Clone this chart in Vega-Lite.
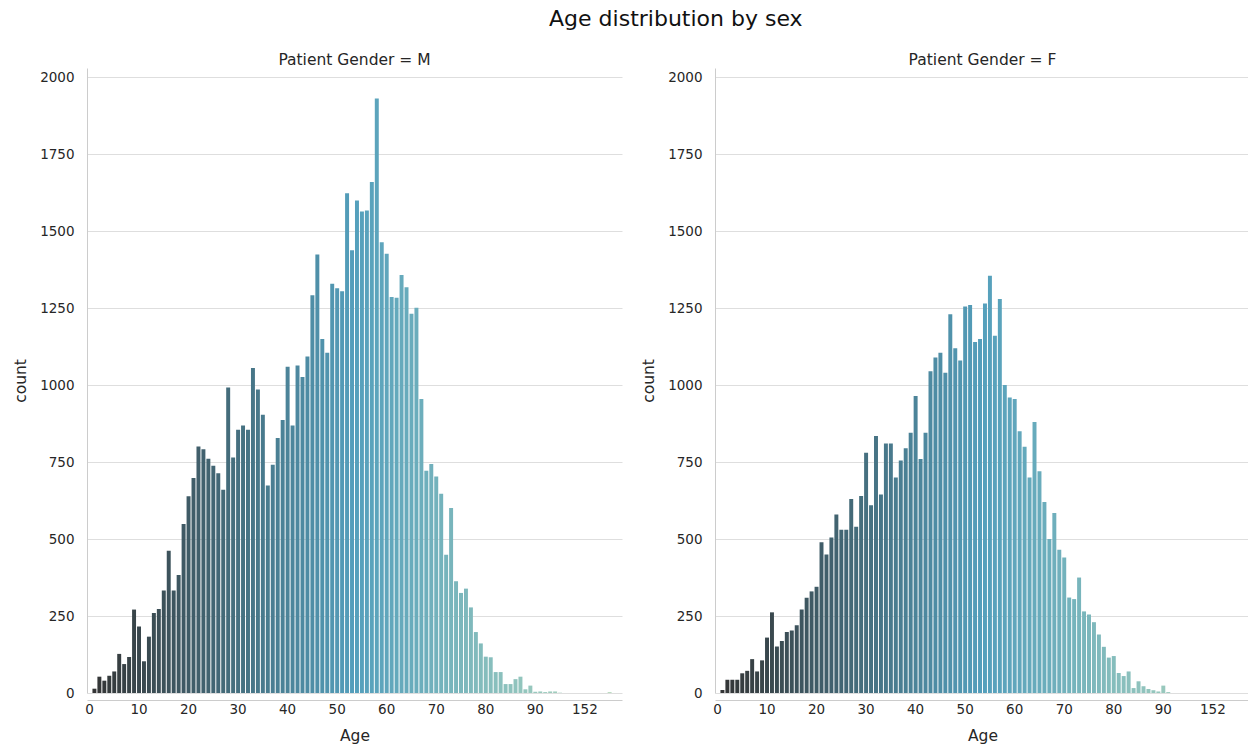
{
  "$schema": "https://vega.github.io/schema/vega-lite/v6.json",
  "padding": {"left": 13, "top": 7, "right": 0, "bottom": 0},
  "background": "white",
  "title": {"text": "Age distribution by sex", "font": "DejaVu Sans", "fontSize": 22, "fontWeight": "normal", "color": "#111111", "anchor": "middle", "dx": 44, "offset": 22},
  "data": {"values": [
    {"Patient Gender":"M","Age":1,"count":14},{"Patient Gender":"M","Age":2,"count":53},{"Patient Gender":"M","Age":3,"count":40},{"Patient Gender":"M","Age":4,"count":56},{"Patient Gender":"M","Age":5,"count":70},{"Patient Gender":"M","Age":6,"count":127},{"Patient Gender":"M","Age":7,"count":94},{"Patient Gender":"M","Age":8,"count":117},{"Patient Gender":"M","Age":9,"count":271},{"Patient Gender":"M","Age":10,"count":216},
    {"Patient Gender":"M","Age":11,"count":103},{"Patient Gender":"M","Age":12,"count":183},{"Patient Gender":"M","Age":13,"count":260},{"Patient Gender":"M","Age":14,"count":273},{"Patient Gender":"M","Age":15,"count":333},{"Patient Gender":"M","Age":16,"count":462},{"Patient Gender":"M","Age":17,"count":333},{"Patient Gender":"M","Age":18,"count":383},{"Patient Gender":"M","Age":19,"count":549},{"Patient Gender":"M","Age":20,"count":639},
    {"Patient Gender":"M","Age":21,"count":698},{"Patient Gender":"M","Age":22,"count":801},{"Patient Gender":"M","Age":23,"count":792},{"Patient Gender":"M","Age":24,"count":761},{"Patient Gender":"M","Age":25,"count":738},{"Patient Gender":"M","Age":26,"count":714},{"Patient Gender":"M","Age":27,"count":660},{"Patient Gender":"M","Age":28,"count":992},{"Patient Gender":"M","Age":29,"count":765},{"Patient Gender":"M","Age":30,"count":855},
    {"Patient Gender":"M","Age":31,"count":869},{"Patient Gender":"M","Age":32,"count":855},{"Patient Gender":"M","Age":33,"count":1056},{"Patient Gender":"M","Age":34,"count":986},{"Patient Gender":"M","Age":35,"count":904},{"Patient Gender":"M","Age":36,"count":674},{"Patient Gender":"M","Age":37,"count":741},{"Patient Gender":"M","Age":38,"count":828},{"Patient Gender":"M","Age":39,"count":887},{"Patient Gender":"M","Age":40,"count":1060},
    {"Patient Gender":"M","Age":41,"count":869},{"Patient Gender":"M","Age":42,"count":1064},{"Patient Gender":"M","Age":43,"count":1026},{"Patient Gender":"M","Age":44,"count":1093},{"Patient Gender":"M","Age":45,"count":1292},{"Patient Gender":"M","Age":46,"count":1424},{"Patient Gender":"M","Age":47,"count":1150},{"Patient Gender":"M","Age":48,"count":1105},{"Patient Gender":"M","Age":49,"count":1329},{"Patient Gender":"M","Age":50,"count":1315},
    {"Patient Gender":"M","Age":51,"count":1305},{"Patient Gender":"M","Age":52,"count":1623},{"Patient Gender":"M","Age":53,"count":1438},{"Patient Gender":"M","Age":54,"count":1600},{"Patient Gender":"M","Age":55,"count":1564},{"Patient Gender":"M","Age":56,"count":1567},{"Patient Gender":"M","Age":57,"count":1660},{"Patient Gender":"M","Age":58,"count":1931},{"Patient Gender":"M","Age":59,"count":1464},{"Patient Gender":"M","Age":60,"count":1427},
    {"Patient Gender":"M","Age":61,"count":1286},{"Patient Gender":"M","Age":62,"count":1284},{"Patient Gender":"M","Age":63,"count":1358},{"Patient Gender":"M","Age":64,"count":1318},{"Patient Gender":"M","Age":65,"count":1232},{"Patient Gender":"M","Age":66,"count":1251},{"Patient Gender":"M","Age":67,"count":955},{"Patient Gender":"M","Age":68,"count":722},{"Patient Gender":"M","Age":69,"count":744},{"Patient Gender":"M","Age":70,"count":703},
    {"Patient Gender":"M","Age":71,"count":647},{"Patient Gender":"M","Age":72,"count":449},{"Patient Gender":"M","Age":73,"count":601},{"Patient Gender":"M","Age":74,"count":363},{"Patient Gender":"M","Age":75,"count":325},{"Patient Gender":"M","Age":76,"count":339},{"Patient Gender":"M","Age":77,"count":278},{"Patient Gender":"M","Age":78,"count":198},{"Patient Gender":"M","Age":79,"count":161},{"Patient Gender":"M","Age":80,"count":118},
    {"Patient Gender":"M","Age":81,"count":116},{"Patient Gender":"M","Age":82,"count":68},{"Patient Gender":"M","Age":83,"count":68},{"Patient Gender":"M","Age":84,"count":29},{"Patient Gender":"M","Age":85,"count":29},{"Patient Gender":"M","Age":86,"count":45},{"Patient Gender":"M","Age":87,"count":53},{"Patient Gender":"M","Age":88,"count":12},{"Patient Gender":"M","Age":89,"count":24},{"Patient Gender":"M","Age":90,"count":4},
    {"Patient Gender":"M","Age":91,"count":5},{"Patient Gender":"M","Age":92,"count":3},{"Patient Gender":"M","Age":93,"count":5},{"Patient Gender":"M","Age":94,"count":5},{"Patient Gender":"M","Age":95,"count":1},{"Patient Gender":"M","Age":412,"count":3},
    {"Patient Gender":"F","Age":1,"count":10},{"Patient Gender":"F","Age":2,"count":43},{"Patient Gender":"F","Age":3,"count":43},{"Patient Gender":"F","Age":4,"count":43},{"Patient Gender":"F","Age":5,"count":64},{"Patient Gender":"F","Age":6,"count":72},{"Patient Gender":"F","Age":7,"count":110},{"Patient Gender":"F","Age":8,"count":70},{"Patient Gender":"F","Age":9,"count":106},{"Patient Gender":"F","Age":10,"count":180},
    {"Patient Gender":"F","Age":11,"count":262},{"Patient Gender":"F","Age":12,"count":151},{"Patient Gender":"F","Age":13,"count":169},{"Patient Gender":"F","Age":14,"count":198},{"Patient Gender":"F","Age":15,"count":203},{"Patient Gender":"F","Age":16,"count":220},{"Patient Gender":"F","Age":17,"count":271},{"Patient Gender":"F","Age":18,"count":309},{"Patient Gender":"F","Age":19,"count":330},{"Patient Gender":"F","Age":20,"count":345},
    {"Patient Gender":"F","Age":21,"count":490},{"Patient Gender":"F","Age":22,"count":450},{"Patient Gender":"F","Age":23,"count":505},{"Patient Gender":"F","Age":24,"count":580},{"Patient Gender":"F","Age":25,"count":530},{"Patient Gender":"F","Age":26,"count":530},{"Patient Gender":"F","Age":27,"count":630},{"Patient Gender":"F","Age":28,"count":540},{"Patient Gender":"F","Age":29,"count":640},{"Patient Gender":"F","Age":30,"count":780},
    {"Patient Gender":"F","Age":31,"count":610},{"Patient Gender":"F","Age":32,"count":835},{"Patient Gender":"F","Age":33,"count":645},{"Patient Gender":"F","Age":34,"count":810},{"Patient Gender":"F","Age":35,"count":810},{"Patient Gender":"F","Age":36,"count":700},{"Patient Gender":"F","Age":37,"count":755},{"Patient Gender":"F","Age":38,"count":795},{"Patient Gender":"F","Age":39,"count":845},{"Patient Gender":"F","Age":40,"count":965},
    {"Patient Gender":"F","Age":41,"count":760},{"Patient Gender":"F","Age":42,"count":845},{"Patient Gender":"F","Age":43,"count":1045},{"Patient Gender":"F","Age":44,"count":1090},{"Patient Gender":"F","Age":45,"count":1105},{"Patient Gender":"F","Age":46,"count":1040},{"Patient Gender":"F","Age":47,"count":1230},{"Patient Gender":"F","Age":48,"count":1120},{"Patient Gender":"F","Age":49,"count":1080},{"Patient Gender":"F","Age":50,"count":1255},
    {"Patient Gender":"F","Age":51,"count":1260},{"Patient Gender":"F","Age":52,"count":1140},{"Patient Gender":"F","Age":53,"count":1150},{"Patient Gender":"F","Age":54,"count":1265},{"Patient Gender":"F","Age":55,"count":1355},{"Patient Gender":"F","Age":56,"count":1160},{"Patient Gender":"F","Age":57,"count":1280},{"Patient Gender":"F","Age":58,"count":1000},{"Patient Gender":"F","Age":59,"count":960},{"Patient Gender":"F","Age":60,"count":955},
    {"Patient Gender":"F","Age":61,"count":850},{"Patient Gender":"F","Age":62,"count":800},{"Patient Gender":"F","Age":63,"count":700},{"Patient Gender":"F","Age":64,"count":880},{"Patient Gender":"F","Age":65,"count":720},{"Patient Gender":"F","Age":66,"count":620},{"Patient Gender":"F","Age":67,"count":500},{"Patient Gender":"F","Age":68,"count":585},{"Patient Gender":"F","Age":69,"count":465},{"Patient Gender":"F","Age":70,"count":440},
    {"Patient Gender":"F","Age":71,"count":310},{"Patient Gender":"F","Age":72,"count":305},{"Patient Gender":"F","Age":73,"count":375},{"Patient Gender":"F","Age":74,"count":265},{"Patient Gender":"F","Age":75,"count":255},{"Patient Gender":"F","Age":76,"count":230},{"Patient Gender":"F","Age":77,"count":190},{"Patient Gender":"F","Age":78,"count":150},{"Patient Gender":"F","Age":79,"count":115},{"Patient Gender":"F","Age":80,"count":120},
    {"Patient Gender":"F","Age":81,"count":65},{"Patient Gender":"F","Age":82,"count":55},{"Patient Gender":"F","Age":83,"count":70},{"Patient Gender":"F","Age":84,"count":16},{"Patient Gender":"F","Age":85,"count":38},{"Patient Gender":"F","Age":86,"count":22},{"Patient Gender":"F","Age":87,"count":13},{"Patient Gender":"F","Age":88,"count":9},{"Patient Gender":"F","Age":89,"count":5},{"Patient Gender":"F","Age":90,"count":24},
    {"Patient Gender":"F","Age":91,"count":3}
  ]},
  "facet": {
    "column": {
      "field": "Patient Gender", "type": "nominal", "sort": ["M", "F"],
      "header": {"title": null, "labelExpr": "'Patient Gender = ' + datum.value", "labelFont": "DejaVu Sans", "labelFontSize": 15.5, "labelColor": "#262626", "labelPadding": 0}
    }
  },
  "spacing": 19,
  "resolve": {"axis": {"y": "independent"}},
  "spec": {
    "width": 535,
    "height": 625,
    "mark": {"type": "bar"},
    "encoding": {
      "x": {
        "field": "Age", "type": "ordinal",
        "scale": {"domain": [0,1,2,3,4,5,6,7,8,9,10,11,12,13,14,15,16,17,18,19,20,21,22,23,24,25,26,27,28,29,30,31,32,33,34,35,36,37,38,39,40,41,42,43,44,45,46,47,48,49,50,51,52,53,54,55,56,57,58,59,60,61,62,63,64,65,66,67,68,69,70,71,72,73,74,75,76,77,78,79,80,81,82,83,84,85,86,87,88,89,90,91,92,93,94,95,148,149,150,151,152,153,154,155,411,412,413,414], "paddingInner": 0.2, "paddingOuter": 0.1},
        "axis": {"values": [0,10,20,30,40,50,60,70,80,90,152], "labelAngle": 0, "title": "Age", "grid": false, "labelPadding": 2, "titlePadding": 13}
      },
      "y": {
        "field": "count", "type": "quantitative",
        "scale": {"domain": [0, 2030], "nice": false},
        "axis": {"values": [0,250,500,750,1000,1250,1500,1750,2000], "format": "d", "title": "count", "grid": true, "labelPadding": 13, "titlePadding": 11}
      },
      "color": {
        "field": "Age", "type": "quantitative", "legend": null,
        "scale": {"domain": [0, 53.5, 107], "range": ["#333333", "#549fbc", "#b7dbbd"], "interpolate": "rgb", "clamp": true}
      }
    }
  },
  "config": {
    "view": {"stroke": null},
    "axis": {
      "labelFont": "DejaVu Sans", "labelFontSize": 13.5, "labelColor": "#262626",
      "titleFont": "DejaVu Sans", "titleFontSize": 15.5, "titleFontWeight": "normal", "titleColor": "#262626",
      "ticks": false, "domainColor": "#cccccc", "domainWidth": 1, "gridColor": "#dedede", "gridWidth": 1
    }
  }
}
